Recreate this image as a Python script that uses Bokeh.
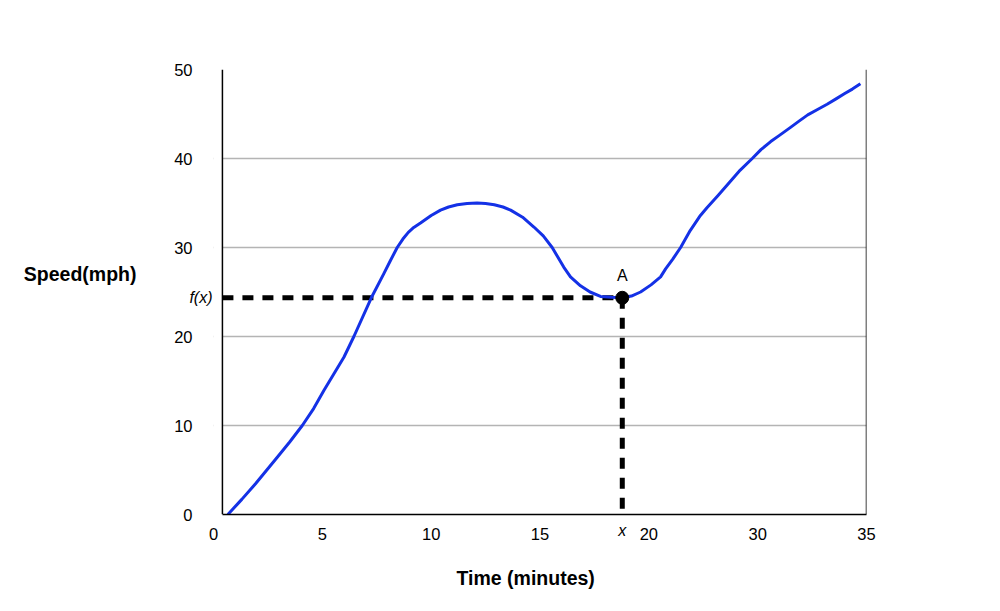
from bokeh.plotting import figure
from bokeh.models import Range1d, FixedTicker, Label, Span, Title, LinearAxis, BoxAnnotation
from bokeh.embed import file_html
from bokeh.resources import INLINE

# Curve (x in axis-position units: labels 0,5,10,15,20,30,35 are equally spaced)
time_pos = [0.66, 1.3, 1.93, 2.93, 3.5, 4.08, 4.6, 5.07, 5.99, 6.45, 7.25, 7.82, 8.13, 8.44,
            8.7, 8.95, 9.2, 9.51, 10.0,
            10.43, 10.8, 11.2, 11.65, 12.11, 12.5, 12.9, 13.3, 13.65, 14.2, 14.72, 15.15,
            15.56, 16.09, 16.4, 16.86, 17.3, 17.78, 18.3, 18.78, 19.2, 19.62, 20.1, 20.54,
            20.77, 21.1, 21.46, 21.9, 22.37, 22.68, 23.2, 23.7, 24.2, 24.75, 25.15, 25.6,
            26.0, 26.51, 26.9, 27.3, 27.75, 28.19, 28.6, 29.0, 29.35, 29.72]
speed = [0.0, 1.7, 3.45, 6.44, 8.15, 10.0, 11.9, 13.93, 17.67, 20.0, 24.35, 27.04, 28.54, 30.0,
         30.95, 31.7, 32.25, 32.75, 33.6,
         34.2, 34.55, 34.8, 34.95, 35.0, 34.95, 34.8, 34.55, 34.2, 33.4, 32.3, 31.3,
         30.0, 27.8, 26.7, 25.7, 25.0, 24.5, 24.4, 24.35, 24.55, 25.0, 25.8, 26.7,
         27.6, 28.7, 30.0, 31.9, 33.6, 34.5, 35.9, 37.3, 38.7, 40.0, 41.0, 41.9,
         42.6, 43.5, 44.2, 44.9, 45.5, 46.1, 46.7, 47.3, 47.8, 48.4]

x_tick_pos = [0, 5, 10, 15, 20, 25, 30]
x_tick_labels = ["0", "5", "10", "15", "20", "30", "35"]
y_ticks = [0, 10, 20, 30, 40, 50]

point_x = 18.78
point_y = 24.35
x_start = 0.41      # where the drawn axis line sits
x_end = 30.0
speed_label_y = 27.0

FONT = "Liberation Sans"

p = figure(width=990, height=611, x_range=Range1d(0, x_end), y_range=Range1d(0, 50),
           output_backend="svg", toolbar_location=None,
           min_border_left=213, min_border_right=124, min_border_top=69, min_border_bottom=97)
p.outline_line_color = None
p.background_fill_color = "white"
p.border_fill_color = "white"

p.xgrid.visible = False
p.ygrid.ticker = FixedTicker(ticks=y_ticks)
p.ygrid.grid_line_color = "#b4b4b4"
p.ygrid.grid_line_width = 1.5


def style(ax, size="16.5px", font_style="normal", line=False):
    ax.axis_line_color = "black" if line else None
    ax.axis_line_width = 1.5
    ax.major_tick_line_color = None
    ax.minor_tick_line_color = None
    ax.major_tick_out = 0
    ax.major_tick_in = 0
    ax.minor_tick_out = 0
    ax.minor_tick_in = 0
    ax.major_label_text_font = FONT
    ax.major_label_text_font_size = size
    ax.major_label_text_font_style = font_style
    ax.major_label_text_color = "black"


# ---- bottom: axis line, the "x" mark, the numeric labels
bx = p.xaxis[0]
style(bx, line=True)
bx.bounds = (x_start, x_end)
bx.ticker = FixedTicker(ticks=[])
bx.major_label_standoff = 0

bx_mark = LinearAxis(ticker=FixedTicker(ticks=[point_x]), major_label_overrides={point_x: "x"})
style(bx_mark, size="16px", font_style="italic")
bx_mark.major_label_standoff = 7
p.add_layout(bx_mark, "below")

bx_num = LinearAxis(ticker=FixedTicker(ticks=x_tick_pos),
                    major_label_overrides={t: l for t, l in zip(x_tick_pos, x_tick_labels)})
style(bx_num)
bx_num.major_label_standoff = -14
p.add_layout(bx_num, "below")

p.add_layout(Title(text="Time (minutes)", align="left", offset=243, standoff=44,
                   text_font=FONT, text_font_size="19.5px", text_font_style="bold",
                   text_color="black"), "below")

# ---- left: f(x) mark, numeric labels, axis title
ly = p.yaxis[0]
style(ly, size="16px", font_style="italic")
ly.ticker = FixedTicker(ticks=[point_y])
ly.major_label_overrides = {point_y: "f(x)"}
ly.major_label_standoff = 1

ly_num = LinearAxis(ticker=FixedTicker(ticks=y_ticks))
style(ly_num)
ly_num.major_label_standoff = -6
p.add_layout(ly_num, "left")

ly_title = LinearAxis(ticker=FixedTicker(ticks=[speed_label_y]),
                      major_label_overrides={speed_label_y: "Speed(mph)"})
style(ly_title, size="19.5px", font_style="bold")
ly_title.major_label_standoff = 35
p.add_layout(ly_title, "left")

# hide grid stubs left of the drawn axis line, then draw the frame lines
p.add_layout(BoxAnnotation(right=x_start, fill_color="white", fill_alpha=1.0,
                           line_alpha=0))
p.add_layout(Span(location=x_start, dimension="height", line_color="black", line_width=1.5))
p.add_layout(Span(location=x_end, dimension="height", line_color="black", line_width=1.5))

# dashed guides
p.line([x_start, point_x], [point_y, point_y], line_color="black", line_width=5,
       line_dash="11 9", line_cap="butt")
p.line([point_x, point_x], [point_y, 0], line_color="black", line_width=5,
       line_dash="11 9", line_cap="butt")

p.line(time_pos, speed, line_color="#1431e6", line_width=3, line_join="round")
p.scatter([point_x], [point_y], size=13, color="black")

p.add_layout(Label(x=point_x, y=point_y + 2.5, text="A", text_align="center",
                   text_baseline="middle", text_font=FONT, text_font_size="16px",
                   text_color="black"))

open("out.html", "w").write(file_html(p, INLINE))
